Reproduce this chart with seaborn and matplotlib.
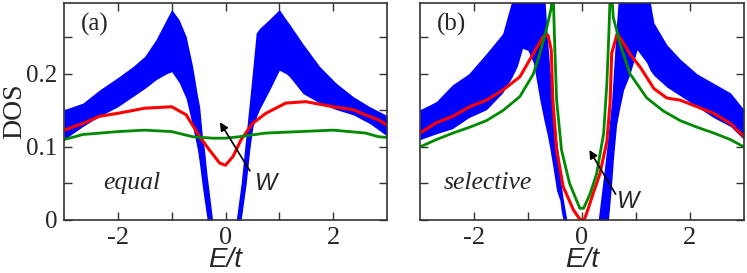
import numpy as np
import matplotlib
matplotlib.use("Agg")
import matplotlib.pyplot as plt
import seaborn as sns

# ---- panel (a): equal ----
a_blue_E = [-3.0, -2.65, -2.34, -2.0, -1.72, -1.5, -1.29, -1.1, -1.0, -0.86, -0.73, -0.61, -0.52, -0.48,
            -0.43, -0.39, -0.34, -0.3, -0.24, 0.2, 0.29, 0.385, 0.45, 0.51, 0.57, 0.63, 0.82, 1.0, 1.13,
            1.19, 1.44, 1.75, 2.06, 2.37, 2.68, 3.0]
a_blue_hi = [0.151, 0.160, 0.178, 0.195, 0.210, 0.224, 0.247, 0.274, 0.288, 0.274, 0.251, 0.210, 0.170, 0.155,
             0.115, 0.096, 0.060, 0.037, 0.0, 0.0, 0.050, 0.119, 0.165, 0.210, 0.256, 0.262, 0.275, 0.288, 0.274,
             0.268, 0.241, 0.210, 0.187, 0.169, 0.155, 0.143]
a_blue_lo = [0.110, 0.128, 0.142, 0.155, 0.169, 0.180, 0.192, 0.200, 0.203, 0.188, 0.166, 0.128, 0.096, 0.075,
             0.046, 0.025, 0.0, 0.0, 0.0, 0.0, 0.0, 0.050, 0.096, 0.128, 0.140, 0.151, 0.178, 0.205, 0.200,
             0.196, 0.173, 0.160, 0.151, 0.144, 0.132, 0.115]

a_red_E = [-3.0, -2.65, -2.34, -2.0, -1.5, -1.0, -0.73, -0.48, -0.3, -0.11, 0.0, 0.14, 0.29, 0.5, 0.75,
           1.12, 1.49, 2.0, 2.37, 2.6, 2.84, 3.0]
a_red = [0.123, 0.132, 0.142, 0.146, 0.153, 0.155, 0.144, 0.114, 0.096, 0.078, 0.075, 0.087, 0.110, 0.132,
         0.146, 0.160, 0.162, 0.155, 0.151, 0.144, 0.137, 0.130]

a_green_E = [-3.0, -2.65, -2.0, -1.5, -1.0, -0.61, -0.24, 0.0, 0.26, 0.75, 2.0, 2.6, 2.84, 3.0]
a_green = [0.110, 0.117, 0.121, 0.123, 0.121, 0.114, 0.112, 0.112, 0.114, 0.119, 0.123, 0.119, 0.114, 0.113]

# ---- panel (b): selective ----
b_blue_E = [-3.0, -2.7, -2.4, -2.1, -1.77, -1.47, -1.3, -1.2, -1.1, -1.0, -0.9, -0.78, -0.7, -0.65, -0.6,
            -0.54, -0.47, -0.41, -0.38, -0.35, -0.28, 0.3, 0.42, 0.49, 0.55, 0.58, 0.64, 0.69, 0.77, 0.89,
            1.02, 1.2, 1.26, 1.33, 1.45, 1.57, 1.82, 2.13, 2.44, 2.75, 3.0]
b_blue_hi = [0.151, 0.162, 0.185, 0.200, 0.228, 0.255, 0.300, 0.32, 0.32, 0.32, 0.32, 0.32, 0.32, 0.26, 0.21,
             0.164, 0.110, 0.075, 0.046, 0.030, 0.0, 0.0, 0.073, 0.120, 0.164, 0.20, 0.27, 0.32, 0.32, 0.32,
             0.32, 0.32, 0.30, 0.27, 0.255, 0.24, 0.22, 0.20, 0.187, 0.174, 0.151]
b_blue_lo = [0.110, 0.118, 0.125, 0.140, 0.151, 0.174, 0.195, 0.210, 0.235, 0.232, 0.215, 0.164, 0.135, 0.119,
             0.100, 0.073, 0.040, 0.027, 0.010, 0.0, 0.0, 0.0, 0.0, 0.0, 0.05, 0.082, 0.13, 0.15, 0.178, 0.200,
             0.233, 0.215, 0.205, 0.198, 0.190, 0.182, 0.170, 0.155, 0.140, 0.128, 0.110]

b_red_E = [-3.0, -2.7, -2.39, -2.08, -1.77, -1.46, -1.15, -0.9, -0.72, -0.63, -0.57, -0.54, -0.47, -0.35,
           -0.16, -0.05, 0.0, 0.05, 0.09, 0.21, 0.33, 0.46, 0.52, 0.55, 0.65, 0.7, 0.89, 1.08, 1.33, 1.57,
           1.82, 2.13, 2.44, 2.75, 3.0]
b_red = [0.119, 0.133, 0.142, 0.155, 0.164, 0.178, 0.196, 0.228, 0.251, 0.253, 0.233, 0.164, 0.096, 0.046,
         0.014, 0.002, 0.0, 0.002, 0.010, 0.037, 0.063, 0.107, 0.160, 0.228, 0.255, 0.250, 0.227, 0.209, 0.180,
         0.167, 0.164, 0.155, 0.146, 0.132, 0.114]

b_green_E = [-3.0, -2.7, -2.39, -2.08, -1.77, -1.46, -1.15, -0.9, -0.78, -0.65, -0.57, -0.54, -0.51, -0.47,
             -0.38, -0.23, -0.04, 0.03, 0.15, 0.27, 0.40, 0.46, 0.5, 0.53, 0.58, 0.71, 0.89, 1.2, 1.51, 1.82,
             2.13, 2.44, 2.75, 3.0]
b_green = [0.100, 0.110, 0.119, 0.127, 0.136, 0.150, 0.169, 0.200, 0.228, 0.264, 0.290, 0.330, 0.250, 0.164,
           0.096, 0.050, 0.016, 0.016, 0.036, 0.063, 0.118, 0.186, 0.260, 0.330, 0.277, 0.240, 0.200, 0.167,
           0.149, 0.136, 0.127, 0.119, 0.110, 0.100]

x_ticks = [-2, -1, 0, 1, 2]
x_labels = ["-2", "", "0", "", "2"]
y_ticks = [0, 0.05, 0.1, 0.15, 0.2, 0.25]
y_labels = ["0", "", "0.1", "", "0.2", ""]

sns.set_style("ticks")
plt.rcParams["font.family"] = ["Liberation Serif", "DejaVu Serif"]
plt.rcParams["font.size"] = 18

BLUE, RED, GREEN = "#0000ff", "#ff0000", "#008a00"

fig = plt.figure(figsize=(7.47, 2.73), dpi=100)
ax_a = fig.add_axes([64 / 747, 53 / 273, 323 / 747, 217 / 273])
ax_b = fig.add_axes([420 / 747, 53 / 273, 324 / 747, 217 / 273])

panels = [
    (ax_a, a_blue_E, a_blue_lo, a_blue_hi, a_red_E, a_red, a_green_E, a_green, "(a)", "equal",
     (0.48, 0.064), (-0.13, 0.137), (0.76, 0.05)),
    (ax_b, b_blue_E, b_blue_lo, b_blue_hi, b_red_E, b_red, b_green_E, b_green, "(b)", "selective",
     (0.65, 0.032), (0.11, 0.099), (0.86, 0.026)),
]

for ax, bE, blo, bhi, rE, r, gE, g, tag, name, tail, head, wpos in panels:
    ax.fill_between(bE, blo, bhi, color=BLUE, lw=0)
    sns.lineplot(x=rE, y=r, ax=ax, color=RED, lw=2.2)
    sns.lineplot(x=gE, y=g, ax=ax, color=GREEN, lw=2.0)

    ax.set_xlim(-3, 3)
    ax.set_ylim(0, 0.297)
    ax.set_xticks(x_ticks)
    ax.set_xticklabels(x_labels)
    ax.set_yticks(y_ticks)
    ax.tick_params(direction="in", length=6, width=1, top=True, right=True, color="#333333")
    ax.tick_params(axis="x", pad=5, labelsize=19)
    ax.tick_params(axis="y", pad=5, labelsize=18)
    for s in ax.spines.values():
        s.set_linewidth(1.2)
        s.set_color("#333333")

    ax.set_xlabel("E/t", family="Liberation Sans", style="italic", fontsize=20)
    ax.xaxis.set_label_coords(0.5, -0.125)
    ax.text(-2.42, 0.267, tag, fontsize=18, ha="center", va="center")
    ax.text(-1.75, 0.05, name, fontsize=18.5, style="italic", ha="center", va="center")
    ax.annotate("", xy=head, xytext=tail,
                arrowprops=dict(arrowstyle="-|>", color="black", lw=1.2, mutation_scale=12))
    ax.text(wpos[0], wpos[1], "W", family="Liberation Sans", style="italic", fontsize=17,
            ha="center", va="center")

ax_a.set_yticklabels(y_labels)
ax_a.set_ylabel("DOS", fontsize=20, va="center")
ax_a.yaxis.set_label_coords(-0.152, 0.5)
ax_b.set_yticklabels([])
ax_b.set_ylabel("")

fig.savefig("out.png", dpi=100)
